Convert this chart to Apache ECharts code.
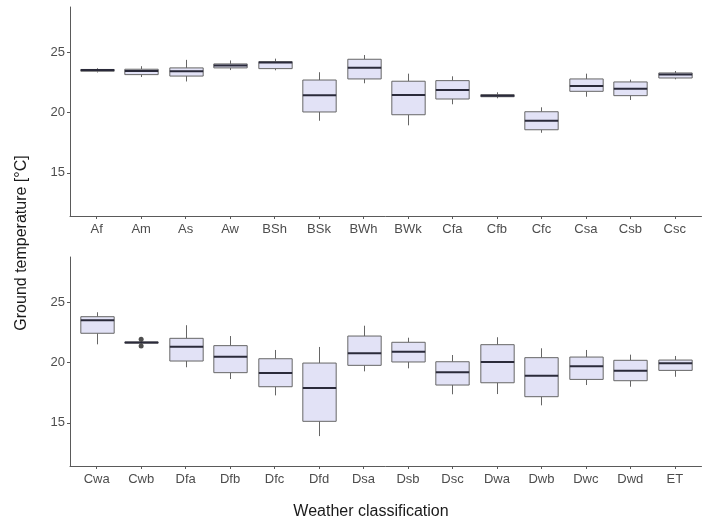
<!DOCTYPE html>
<html><head><meta charset="utf-8">
<script src="https://cdn.jsdelivr.net/npm/echarts@6/dist/echarts.min.js"></script>
<style>html,body{margin:0;padding:0;background:#fff}#c{width:724px;height:531px}</style>
</head><body><div id="c"></div>
<script>
const categoriesTop = ['Af','Am','As','Aw','BSh','BSk','BWh','BWk','Cfa','Cfb','Cfc','Csa','Csb','Csc'];
const categoriesBottom = ['Cwa','Cwb','Dfa','Dfb','Dfc','Dfd','Dsa','Dsb','Dsc','Dwa','Dwb','Dwc','Dwd','ET'];
// [lower whisker, Q1, median, Q3, upper whisker]
const statsTop = [
  [23.35, 23.45, 23.55, 23.60, 23.70],
  [22.97, 23.17, 23.47, 23.62, 23.87],
  [22.60, 23.05, 23.45, 23.73, 24.40],
  [23.55, 23.73, 23.92, 24.06, 24.35],
  [23.53, 23.67, 24.17, 24.25, 24.50],
  [19.33, 20.06, 21.45, 22.72, 23.37],
  [22.45, 22.81, 23.75, 24.45, 24.80],
  [18.95, 19.83, 21.47, 22.62, 23.25],
  [20.70, 21.14, 21.89, 22.67, 23.03],
  [21.20, 21.33, 21.42, 21.50, 21.70],
  [18.33, 18.58, 19.33, 20.08, 20.45],
  [21.33, 21.78, 22.22, 22.81, 23.25],
  [21.06, 21.42, 22.00, 22.56, 22.75],
  [22.78, 22.89, 23.17, 23.31, 23.47]
];
const statsBottom = [
  [21.53, 22.45, 23.53, 23.83, 24.20],
  [21.60, 21.63, 21.68, 21.72, 21.75],
  [19.62, 20.14, 21.33, 22.03, 23.12],
  [18.64, 19.17, 20.50, 21.42, 22.22],
  [17.28, 18.00, 19.14, 20.33, 21.06],
  [13.89, 15.12, 17.89, 19.97, 21.31],
  [19.28, 19.78, 20.78, 22.22, 23.08],
  [19.53, 20.06, 20.92, 21.70, 22.08],
  [17.37, 18.14, 19.20, 20.08, 20.64],
  [17.39, 18.33, 20.06, 21.50, 22.12],
  [16.45, 17.17, 18.92, 20.42, 21.20],
  [18.14, 18.61, 19.70, 20.47, 21.06],
  [18.00, 18.50, 19.33, 20.20, 20.67],
  [18.83, 19.36, 19.95, 20.22, 20.56]
];
const outliersBottom = [['Cwb', 21.95], ['Cwb', 21.40]];
const yTickValues = [15, 20, 25];
const yMin = 11.4, yMax = 28.8;

const AX = '#5a5a5a', LBL = '#4d4d4d', FONT = '"Liberation Sans", Arial, sans-serif';

function renderBox(params, api) {
  const i = api.value(0);
  const p = k => api.coord([i, api.value(k)]);
  const lo = p(1), q1 = p(2), md = p(3), q3 = p(4), hi = p(5);
  const w = api.size([1, 0])[0] * 0.75;
  const cx = Math.round(lo[0]) + 0.5;
  const x0 = cx - w / 2;
  return {type: 'group', children: [
    {type: 'line', shape: {x1: cx, y1: hi[1], x2: cx, y2: q3[1]}, style: {stroke: '#666', lineWidth: 1}},
    {type: 'line', shape: {x1: cx, y1: q1[1], x2: cx, y2: lo[1]}, style: {stroke: '#666', lineWidth: 1}},
    {type: 'rect', shape: {x: x0, y: q3[1], width: w, height: q1[1] - q3[1]}, style: {fill: '#e2e2f6', stroke: '#666', lineWidth: 1}},
    {type: 'line', shape: {x1: x0, y1: md[1], x2: x0 + w, y2: md[1]}, style: {stroke: '#2a2a3a', lineWidth: 2}}
  ]};
}

const frameL = 70, frameR = 701.5;
const unit = (frameR - frameL) / 14.2;
const dataL = frameL + 0.1 * unit, dataR = frameR - 0.1 * unit;
const panels = [{top: 7, bottom: 531 - 216}, {top: 257, bottom: 531 - 466}];

const grid = [], xAxis = [], yAxis = [], series = [];
panels.forEach((pn, k) => {
  grid.push({left: frameL, right: 724 - frameR, top: pn.top, bottom: pn.bottom});
  grid.push({left: dataL, right: 724 - dataR, top: pn.top, bottom: pn.bottom});
  const gf = 2 * k, gd = 2 * k + 1;
  xAxis.push({gridIndex: gf, type: 'value', min: 0, max: 1, axisLine: {show: true, onZero: false, lineStyle: {color: AX, width: 1}},
    axisTick: {show: false}, axisLabel: {show: false}, splitLine: {show: false}});
  xAxis.push({gridIndex: gd, type: 'category', data: k === 0 ? categoriesTop : categoriesBottom, boundaryGap: true,
    axisLine: {show: false, onZero: false}, axisTick: {show: true, alignWithLabel: true, length: 3, lineStyle: {color: AX}},
    axisLabel: {color: LBL, fontSize: 13, fontFamily: FONT, margin: 7, interval: 0}, splitLine: {show: false}});
  yAxis.push({gridIndex: gf, type: 'value', min: yMin, max: yMax,
    axisLine: {show: true, onZero: false, lineStyle: {color: AX, width: 1}},
    axisTick: {show: true, length: 3, customValues: yTickValues, lineStyle: {color: AX}},
    axisLabel: {color: LBL, fontSize: 13, fontFamily: FONT, margin: 5, customValues: yTickValues},
    splitLine: {show: false}});
  yAxis.push({gridIndex: gd, type: 'value', min: yMin, max: yMax, show: false});
  const stats = k === 0 ? statsTop : statsBottom;
  series.push({type: 'custom', xAxisIndex: gd, yAxisIndex: gd, renderItem: renderBox,
    data: stats.map((s, i) => [i, ...s]), silent: true});
});
series.push({type: 'scatter', xAxisIndex: 3, yAxisIndex: 3, data: outliersBottom, symbolSize: 5,
  itemStyle: {color: '#222'}, silent: true});

const chart = echarts.init(document.getElementById('c'), null, {renderer: 'canvas'});
chart.setOption({
  animation: false,
  backgroundColor: '#fff',
  grid, xAxis, yAxis, series,
  graphic: [
    {type: 'text', x: 22, y: 243, rotation: Math.PI / 2,
      style: {text: 'Ground temperature [°C]', font: '16px ' + FONT, fill: '#1a1a1a', align: 'center', verticalAlign: 'middle'}},
    {type: 'text', x: 371, y: 512,
      style: {text: 'Weather classification', font: '16px ' + FONT, fill: '#1a1a1a', align: 'center', verticalAlign: 'middle'}}
  ]
});
</script></body></html>
